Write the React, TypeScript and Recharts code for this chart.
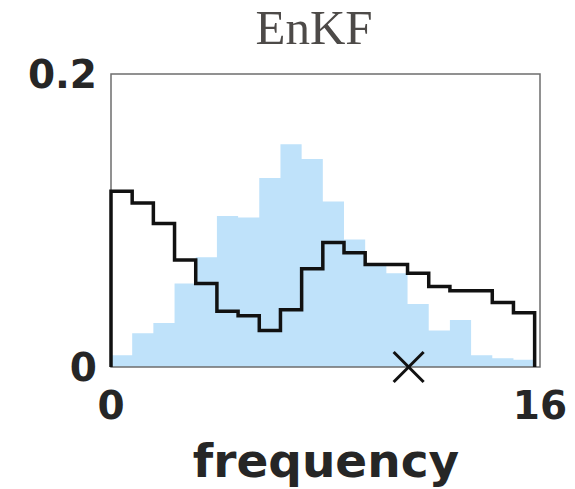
import React from 'react';
import {
  ComposedChart,
  Area,
  Line,
  Scatter,
  XAxis,
  YAxis,
  ReferenceArea
} from 'recharts';

// histogram bins (left edges start at 0, equal width)
const binWidth = 0.79;
const truthHist = [0.008, 0.023, 0.030, 0.057, 0.075, 0.103, 0.102, 0.129, 0.152, 0.142, 0.113, 0.087, 0.069, 0.064, 0.043, 0.025, 0.032, 0.008, 0.006, 0.005];
const enkfHist = [0.120, 0.112, 0.098, 0.073, 0.057, 0.038, 0.035, 0.025, 0.039, 0.067, 0.085, 0.078, 0.070, 0.070, 0.064, 0.055, 0.052, 0.052, 0.044, 0.037];
const marker = [{ x: 11.1, y: 0 }];
const xTicks = [0, 16];
const yTicks = [0, 0.2];

// step outline: start at zero, one point per bin edge, close back to zero
const steps = [
  { x: 0, truth: 0, enkf: 0 },
  ...truthHist.map((v, i) => ({ x: i * binWidth, truth: v, enkf: enkfHist[i] })),
  { x: truthHist.length * binWidth, truth: truthHist[truthHist.length - 1], enkf: enkfHist[enkfHist.length - 1] },
  { x: truthHist.length * binWidth, truth: 0, enkf: 0 }
];

const tickStyle = { fontFamily: 'DejaVu Sans', fontWeight: 'bold', fontSize: 39, fill: '#262626' };

const Cross = (props: any) => {
  const { cx, cy } = props;
  const r = 15;
  return (
    <g stroke="#111" strokeWidth={3}>
      <line x1={cx - r} y1={cy - r} x2={cx + r} y2={cy + r} />
      <line x1={cx - r} y1={cy + r} x2={cx + r} y2={cy - r} />
    </g>
  );
};

export default function App() {
  return (
    <div style={{ position: 'absolute', left: 0, top: 0, width: 575, height: 489, background: '#fff' }}>
      <div
        style={{
          position: 'absolute',
          left: 214,
          width: 200,
          top: 0,
          textAlign: 'center',
          fontFamily: 'Liberation Serif',
          fontSize: 49,
          lineHeight: '56px',
          color: '#4d4a48'
        }}
      >
        EnKF
      </div>
      <ComposedChart width={575} height={489} data={steps} margin={{ top: 74, right: 35, bottom: 0, left: 0 }}>
        <XAxis
          dataKey="x"
          type="number"
          domain={[0, 16]}
          ticks={xTicks}
          tickLine={false}
          axisLine={false}
          tickSize={0}
          tickMargin={24}
          height={122}
          tick={tickStyle}
          interval={0}
        />
        <YAxis
          type="number"
          domain={[0, 0.2]}
          ticks={yTicks}
          tickFormatter={(v: number) => (v === 0 ? '0' : String(v))}
          tickLine={false}
          axisLine={false}
          tickSize={0}
          tickMargin={14}
          width={111}
          tick={tickStyle}
          interval={0}
        />
        <Area
          type="stepAfter"
          dataKey="truth"
          fill="#bfe2fa"
          fillOpacity={1}
          stroke="none"
          isAnimationActive={false}
        />
        <ReferenceArea x1={0} x2={16} y1={0} y2={0.2} fill="none" stroke="#6e6e6e" strokeWidth={1.5} />
        <Line
          type="stepAfter"
          dataKey="enkf"
          stroke="#111"
          strokeWidth={3.5}
          dot={false}
          isAnimationActive={false}
        />
        <Scatter data={marker} dataKey="y" shape={Cross} isAnimationActive={false} />
      </ComposedChart>
      <div
        style={{
          position: 'absolute',
          left: 126,
          width: 400,
          top: 433,
          textAlign: 'center',
          fontFamily: 'DejaVu Sans',
          fontWeight: 'bold',
          fontSize: 47,
          lineHeight: '56px',
          color: '#262626'
        }}
      >
        frequency
      </div>
    </div>
  );
}
